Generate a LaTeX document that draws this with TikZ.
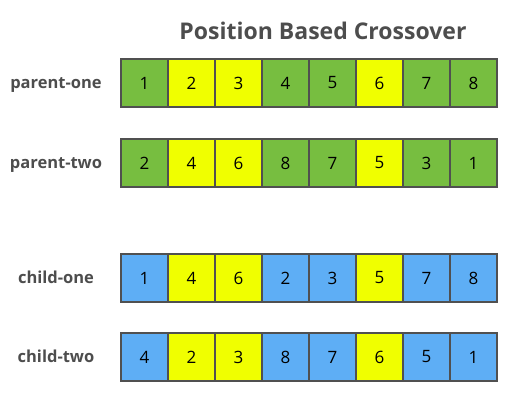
\documentclass[tikz,border=0pt]{standalone}
\usepackage{fontspec}
\setmainfont{Open Sans}
\usepackage{xcolor}
\usetikzlibrary{positioning}
\definecolor{cellg}{HTML}{77BE40}
\definecolor{celly}{HTML}{F0FF00}
\definecolor{cellb}{HTML}{5EAEF5}
\definecolor{pbInk}{HTML}{4D4D4D}
\definecolor{pbEdge}{HTML}{505050}
\tikzset{
  pb diagram/.style={x=1pt, y=1pt, line join=miter},
  pb cell/.style={draw=pbEdge, line width=1.6pt, minimum width=47pt,
    minimum height=48pt, inner sep=0pt, text=black,
    font=\fontsize{17}{20}\selectfont},
  pb label/.style={text=pbInk, anchor=base,
    font=\bfseries\fontsize{16.5}{20}\selectfont},
  pb title/.style={text=pbInk, font=\bfseries\fontsize{23}{28}\selectfont}
}

\begin{document}
\begin{tikzpicture}[pb diagram]
\useasboundingbox (0,0) rectangle (530,404);
\node[pb title] (title) at (323,373) {Position Based Crossover};
\foreach \row/\title/\y/\cells in {
  p1/parent-one/321/{1/g,2/y,3/y,4/g,5/g,6/y,7/g,8/g},
  p2/parent-two/241/{2/g,4/y,6/y,8/g,7/g,5/y,3/g,1/g},
  c1/child-one/126/{1/b,4/y,6/y,2/b,3/b,5/y,7/b,8/b},
  c2/child-two/47/{4/b,2/y,3/y,8/b,7/b,6/y,5/b,1/b}}{
  \node[pb label] (\row-name) at (56,\y-5.5) {\title};
  \foreach \v/\c [count=\i] in \cells
    \node[pb cell, fill=cell\c] (\row-\i) at ({144.5+47*(\i-1)},\y) {\v};
}
\end{tikzpicture}
\end{document}
